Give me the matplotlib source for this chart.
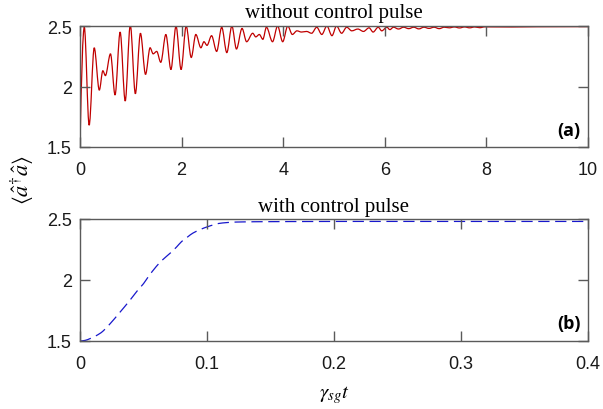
import matplotlib
matplotlib.use("Agg")
import matplotlib.pyplot as plt
from matplotlib.path import Path
from matplotlib.patches import PathPatch

# (a) photon number without control pulse: successive turning points (t, value)
t_ext = [0.0, 0.085, 0.18, 0.28, 0.38, 0.45, 0.50, 0.60, 0.69, 0.79, 0.89, 0.99,
         1.09, 1.19, 1.29, 1.38, 1.44, 1.51, 1.59, 1.69, 1.79, 1.89, 1.99, 2.09,
         2.19, 2.28, 2.38, 2.44, 2.50, 2.59, 2.69, 2.79, 2.89, 2.99, 3.08, 3.19,
         3.28, 3.40, 3.46, 3.53, 3.60, 3.67, 3.79, 3.89, 3.99, 4.09, 4.18, 4.27,
         4.36, 4.46, 4.56, 4.66, 4.76, 4.86, 4.96, 5.05, 5.15, 5.25, 5.35, 5.47,
         5.58, 5.69, 5.77, 5.87, 5.94, 6.04, 6.10, 6.17, 6.27, 6.37, 6.47, 6.57,
         6.67, 6.77, 6.87, 6.97, 7.07, 7.17, 7.27, 7.37, 7.47, 7.57, 7.67, 7.77,
         7.87, 7.97, 8.5, 9.0, 10.0]
n_ext = [1.50, 2.49, 1.68, 2.32, 1.97, 2.13, 2.09, 2.27, 1.93, 2.45, 1.88, 2.51,
         1.94, 2.44, 2.10, 2.32, 2.27, 2.29, 2.20, 2.43, 2.14, 2.50, 2.14, 2.50,
         2.24, 2.43, 2.32, 2.37, 2.34, 2.42, 2.29, 2.49, 2.28, 2.50, 2.31, 2.48,
         2.37, 2.44, 2.41, 2.43, 2.39, 2.49, 2.37, 2.50, 2.37, 2.50, 2.43, 2.46,
         2.45, 2.455, 2.44, 2.49, 2.43, 2.50, 2.42, 2.50, 2.44, 2.49, 2.46, 2.475,
         2.455, 2.485, 2.45, 2.49, 2.46, 2.49, 2.47, 2.49, 2.475, 2.49, 2.478, 2.49,
         2.476, 2.49, 2.48, 2.49, 2.478, 2.49, 2.485, 2.492, 2.484, 2.492, 2.485, 2.492,
         2.486, 2.493, 2.492, 2.494, 2.495]

# (b) photon number with control pulse
t_ctrl = [0.0, 0.004, 0.008, 0.013, 0.018, 0.024, 0.031, 0.039, 0.045, 0.050,
          0.054, 0.060, 0.065, 0.071, 0.076, 0.080, 0.085, 0.089, 0.095, 0.100,
          0.105, 0.109, 0.116, 0.123, 0.135, 0.145, 0.2, 0.3, 0.4]
n_ctrl = [1.50, 1.505, 1.52, 1.545, 1.58, 1.645, 1.73, 1.83, 1.91, 1.97,
          2.03, 2.11, 2.165, 2.22, 2.27, 2.315, 2.355, 2.385, 2.415, 2.435,
          2.452, 2.463, 2.471, 2.475, 2.477, 2.478, 2.48, 2.48, 2.48]

xticks_a = [0, 2, 4, 6, 8, 10]
xticks_b = [0, 0.1, 0.2, 0.3, 0.4]
yticks = [1.5, 2, 2.5]
ytick_labels = ["1.5", "2", "2.5"]

RED = "#c00000"
BLUE = "#1818cc"
SPINE = "#5a5a5a"

plt.rcParams["font.family"] = ["Liberation Sans", "DejaVu Sans"]
plt.rcParams["mathtext.fontset"] = "stix"

fig = plt.figure(figsize=(6.03, 4.10), dpi=100)
ax_a = fig.add_axes([80 / 603, 1 - 148 / 410, 508 / 603, 121 / 410])
ax_b = fig.add_axes([80 / 603, 1 - 342 / 410, 508 / 603, 122 / 410])


def turning_point_path(xs, ys):
    """Cubic Bezier path through turning points with flat tangents."""
    verts = [(xs[0], ys[0])]
    codes = [Path.MOVETO]
    for i in range(1, len(xs)):
        x0, y0, x1, y1 = xs[i - 1], ys[i - 1], xs[i], ys[i]
        dx = x1 - x0
        c1y = y0 + 0.6 * (y1 - y0) if i == 1 else y0
        verts += [(x0 + dx / 3, c1y), (x1 - dx / 3, y1), (x1, y1)]
        codes += [Path.CURVE4] * 3
    return Path(verts, codes)


def spline_path(xs, ys):
    """Catmull-Rom curve through the samples, expressed as Bezier segments."""
    pts = list(zip(xs, ys))
    verts = [pts[0]]
    codes = [Path.MOVETO]
    n = len(pts)
    for i in range(n - 1):
        p0 = pts[max(i - 1, 0)]
        p1 = pts[i]
        p2 = pts[i + 1]
        p3 = pts[min(i + 2, n - 1)]
        c1 = (p1[0] + (p2[0] - p0[0]) / 6, p1[1] + (p2[1] - p0[1]) / 6)
        c2 = (p2[0] - (p3[0] - p1[0]) / 6, p2[1] - (p3[1] - p1[1]) / 6)
        verts += [c1, c2, p2]
        codes += [Path.CURVE4] * 3
    return Path(verts, codes)


ax_a.add_patch(PathPatch(turning_point_path(t_ext, n_ext), facecolor="none",
                         edgecolor=RED, lw=0.9))
ax_b.add_patch(PathPatch(spline_path(t_ctrl, n_ctrl), facecolor="none",
                         edgecolor=BLUE, lw=0.9, linestyle=(0, (9, 4.5))))

for ax, xt, xl in ((ax_a, xticks_a, (0, 10)), (ax_b, xticks_b, (0, 0.4))):
    ax.set_xlim(*xl)
    ax.set_ylim(1.5, 2.5)
    ax.set_xticks(xt)
    ax.set_xticklabels([("%g" % v) for v in xt])
    ax.set_yticks(yticks)
    ax.set_yticklabels(ytick_labels)
    ax.tick_params(direction="in", length=7, width=1, color=SPINE,
                   top=True, right=True, labelsize=13, labelcolor="#1a1a1a")
    ax.tick_params(axis="x", pad=10)
    ax.tick_params(axis="y", pad=6)
    for s in ax.spines.values():
        s.set_color(SPINE)
        s.set_linewidth(1)

ax_a.set_title("without control pulse", family="Liberation Serif",
               fontsize=15, pad=6.5)
ax_b.set_title("with control pulse", family="Liberation Serif",
               fontsize=15, pad=6)

ax_a.text(0.985, 0.07, "(a)", transform=ax_a.transAxes, ha="right",
          va="bottom", fontsize=13, fontweight="bold", family="Open Sans")
ax_b.text(0.985, 0.07, "(b)", transform=ax_b.transAxes, ha="right",
          va="bottom", fontsize=13, fontweight="bold", family="Open Sans")

fig.text(22 / 603, 1 - 180 / 410, r"$\langle\hat{a}^{\dagger}\hat{a}\rangle$",
         rotation=90, ha="center", va="center", fontsize=16)
ax_b.set_xlabel(r"$\gamma_{sg}t$", fontsize=15, labelpad=8)

fig.savefig("out.png", dpi=100)
